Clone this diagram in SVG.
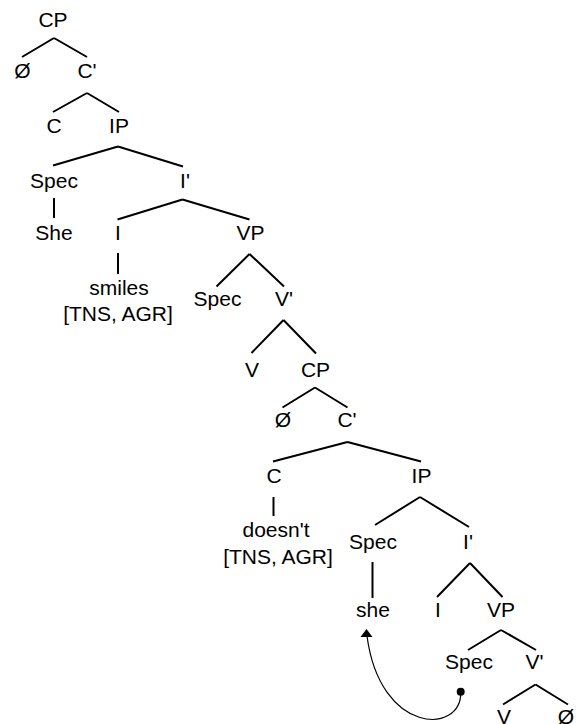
<svg xmlns="http://www.w3.org/2000/svg" width="582" height="724" viewBox="0 0 582 724">
<style>
text{font-family:"Liberation Sans",Arial,sans-serif;font-size:21px;fill:#000;text-anchor:middle}
.e{stroke:#000;stroke-width:2;fill:none}
.mv{stroke:#000;stroke-width:1.2;fill:none}
</style>
<rect width="582" height="724" fill="#fff"/>
<g id="connectors">
<path class="e" d="M54 38L22 57M54 38L87 57"/>
<path class="e" d="M87 93L53 112M87 93L119 112"/>
<path class="e" d="M118 146.5L53 165.5M118 146.5L183 166.5"/>
<path class="e" d="M54 198V218"/>
<path class="e" d="M182.5 199.5L117.5 219.5M182.5 199.5L249.5 219.5"/>
<path class="e" d="M118 253V274"/>
<path class="e" d="M249.5 254L216.5 286.5M249.5 254L284 286.5"/>
<path class="e" d="M283.5 320L251.5 353M283.5 320L316 353.5"/>
<path class="e" d="M315 387.5L282.5 407.5M315 387.5L347.5 407.5"/>
<path class="e" d="M347.5 442L273 461.5M347.5 442L421 461.5"/>
<path class="e" d="M273.5 497V516"/>
<path class="e" d="M420 497L375 525M420 497L469 527"/>
<path class="e" d="M372.5 562V598"/>
<path class="e" d="M470 563L437 597M470 563L502.5 597"/>
<path class="e" d="M501 630L468 650M501 630L536 650"/>
<path class="e" d="M535.5 684.5L503 704.5M535.5 684.5L568 704.5"/>
<g id="movement">
<path class="mv" d="M460.7 692C462 735 380 735 367 636"/>
<circle cx="460.7" cy="691.7" r="4" fill="#000"/>
<path d="M366.5 629L372.5 637L360.5 637Z" fill="#000"/>
</g>
</g>
<g id="n1"><text x="53" y="27">CP</text></g>
<g id="n2"><text x="22.5" y="78">Ø</text></g>
<g id="n3"><text x="87" y="78">C'</text></g>
<g id="n4"><text x="54" y="133">C</text></g>
<g id="n5"><text x="119" y="133">IP</text></g>
<g id="n6"><text x="54" y="188">Spec</text></g>
<g id="n7"><text x="185" y="188">I'</text></g>
<g id="n8"><text x="54" y="240">She</text></g>
<g id="n9"><text x="118" y="240">I</text></g>
<g id="n10"><text x="250.5" y="240">VP</text></g>
<g id="n11"><text x="119" y="295">smiles</text><text x="118" y="321">[TNS, AGR]</text></g>
<g id="n12"><text x="217.5" y="306">Spec</text></g>
<g id="n13"><text x="284" y="306">V'</text></g>
<g id="n14"><text x="252" y="376.5">V</text></g>
<g id="n15"><text x="315.5" y="376.5">CP</text></g>
<g id="n16"><text x="283" y="427">Ø</text></g>
<g id="n17"><text x="347" y="427">C'</text></g>
<g id="n18"><text x="274" y="483">C</text></g>
<g id="n19"><text x="421.5" y="483">IP</text></g>
<g id="n20"><text x="276" y="537">doesn't</text><text x="278" y="564">[TNS, AGR]</text></g>
<g id="n21"><text x="373" y="549">Spec</text></g>
<g id="n22"><text x="468" y="549">I'</text></g>
<g id="n23"><text x="373" y="617">she</text></g>
<g id="n24"><text x="438" y="617">I</text></g>
<g id="n25"><text x="501" y="617">VP</text></g>
<g id="n26"><text x="469" y="669">Spec</text></g>
<g id="n27"><text x="534.5" y="669">V'</text></g>
<g id="n28"><text x="504" y="724">V</text></g>
<g id="n29"><text x="566" y="724">Ø</text></g>
</svg>
